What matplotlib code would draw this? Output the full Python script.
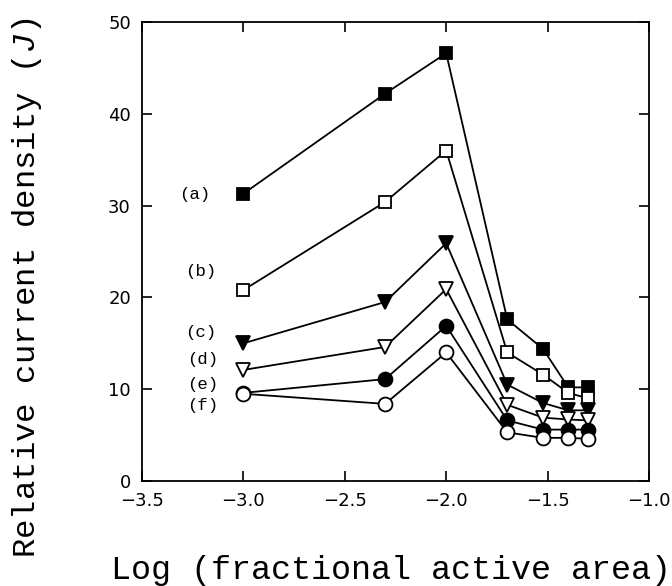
import matplotlib.pyplot as plt

plt.rcParams["mathtext.fontset"] = "custom"
plt.rcParams["mathtext.it"] = "Liberation Mono:italic"
plt.rcParams["mathtext.rm"] = "Liberation Mono"

# log10 of fractional active area: 0.001, 0.005, 0.01, 0.02, 0.03, 0.04, 0.05
log_area = [-3.0, -2.301, -2.0, -1.699, -1.523, -1.398, -1.301]

curve_a = [31.3, 42.2, 46.6, 17.6, 14.4, 10.2, 10.2]
curve_b = [20.8, 30.4, 36.0, 14.0, 11.6, 9.6, 9.0]
curve_c = [15.0, 19.5, 25.9, 10.5, 8.5, 7.7, 7.7]
curve_d = [12.1, 14.6, 20.9, 8.3, 6.9, 6.7, 6.6]
curve_e = [9.6, 11.1, 16.9, 6.6, 5.6, 5.6, 5.6]
curve_f = [9.5, 8.4, 14.0, 5.3, 4.7, 4.7, 4.6]

curve_names = ["(a)", "(b)", "(c)", "(d)", "(e)", "(f)"]
name_x = [-3.24, -3.21, -3.21, -3.20, -3.20, -3.20]
name_y = [31.2, 22.8, 16.2, 13.2, 10.5, 8.2]

fig = plt.figure(figsize=(6.72, 5.86), dpi=100)
ax = fig.add_axes([142 / 672, 1 - 481 / 586, 507 / 672, 459 / 586])

styles = [
    (curve_a, "s", "black", 8.5),
    (curve_b, "s", "white", 8.5),
    (curve_c, "v", "black", 10),
    (curve_d, "v", "white", 10),
    (curve_e, "o", "black", 10),
    (curve_f, "o", "white", 10),
]
for vals, mk, face, ms in styles:
    ax.plot(log_area, vals, color="black", lw=1.3, marker=mk, ms=ms,
            mfc=face, mec="black", mew=1.3, zorder=3)

for name, x, y in zip(curve_names, name_x, name_y):
    ax.text(x, y, name, family="Liberation Mono", fontsize=12.5,
            ha="center", va="center")

ax.set_xlim(-3.5, -1.0)
ax.set_ylim(0, 50)
ax.set_xticks([-3.5, -3.0, -2.5, -2.0, -1.5, -1.0])
ax.set_yticks([0, 10, 20, 30, 40, 50])
ax.set_xticklabels(["\u22123.5", "\u22123.0", "\u22122.5", "\u22122.0", "\u22121.5", "\u22121.0"])
ax.tick_params(direction="in", length=7, width=1.2, top=True, right=True,
               labelsize=13, pad=8)
for lab in ax.get_xticklabels() + ax.get_yticklabels():
    lab.set_family("DejaVu Sans")
for sp in ax.spines.values():
    sp.set_linewidth(1.3)

fig.text(391 / 672, 1 - 570 / 586, "Log (fractional active area)",
         family="Liberation Mono", fontsize=24, ha="center", va="center")
fig.text(27 / 672, 1 - 288 / 586, "Relative current density ($J$)",
         family="Liberation Mono", fontsize=23.3, ha="center", va="center",
         rotation=90)

fig.savefig("out.png", dpi=100)
